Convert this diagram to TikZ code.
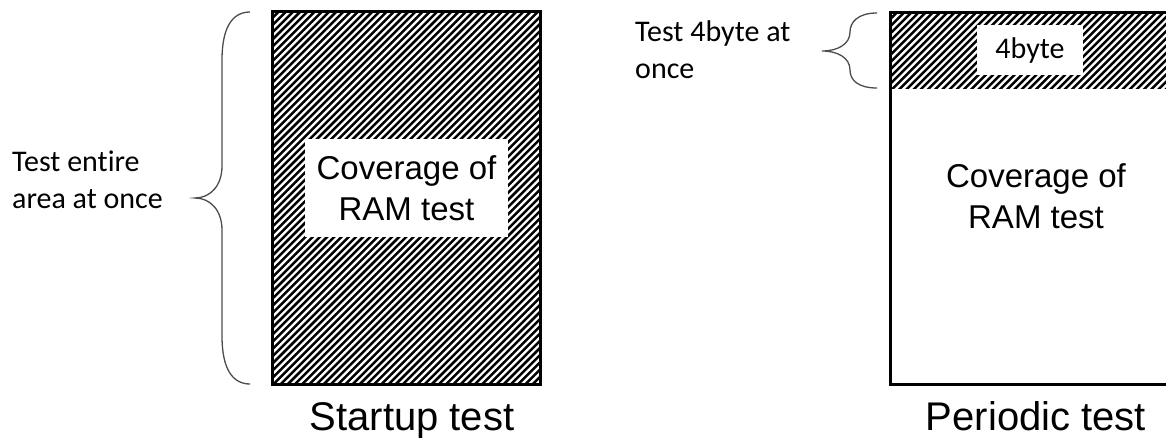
\documentclass[tikz,border=0pt]{standalone}
\usepackage{fontspec}
\setmainfont{Liberation Sans}
\newfontfamily\calibfont[Ligatures=CommonOff]{Carlito}
\tikzset{
  frame/.style={line width=3pt, line join=miter},
  hatchline/.style={line width=2.5pt},
  bracepath/.style={draw=black!70, line width=1.3pt},
  whitebox/.style={fill=white, inner sep=0pt},
  covertext/.style={font=\fontsize{33}{41}\selectfont, align=center},
  sidelabel/.style={font=\calibfont\fontsize{30}{37}\selectfont, align=left, inner sep=0pt, anchor=west},
  caption/.style={font=\fontsize{40}{48}\selectfont, inner sep=0pt, anchor=base},
}
\begin{document}
\begin{tikzpicture}[x=1pt,y=-1pt]
\clip (0,0) rectangle (1166,437);

% ---- startup test: whole area hatched ----
\begin{scope}
  \clip (272,11) rectangle (540,384);
  \foreach \c in {276,283.2,...,940} \draw[hatchline] (\c,0) -- ++(-450,450);
\end{scope}
\node[whitebox, covertext, minimum width=203pt, minimum height=98pt] (startcov) at (406.5,188) {Coverage of\\RAM test};
\draw[frame] (272,11) rectangle (540,384);
\node[caption] (startcap) at (412,430) {Startup test};

% brace for the whole area
\coordinate (lbtop) at (250,12);
\coordinate (lbtip) at (195,198);
\coordinate (lbbot) at (250,384);
\draw[bracepath] (lbtop) .. controls (232,12) and (222,28) .. (222,60) -- (222,166)
  .. controls (222,186) and (210,198) .. (lbtip)
  .. controls (210,198) and (222,210) .. (222,230) -- (222,336)
  .. controls (222,368) and (232,384) .. (lbbot);
\node[sidelabel] (leftlabel) at (12,180) {Test entire\\area at once};

% ---- periodic test: only a 4-byte slice hatched ----
\begin{scope}
  \clip (890,12) rectangle (1190,88);
  \foreach \c in {895,902.2,...,1300} \draw[hatchline] (\c,0) -- ++(-450,450);
\end{scope}
\node[whitebox, font=\calibfont\fontsize{30}{36}\selectfont, minimum width=106pt, minimum height=50pt] (slice) at (1030,50) {4byte};
\draw[frame] (1190,12) -- (890,12) -- (890,384) -- (1190,384);
\node[covertext, inner sep=0pt] (periodcov) at (1036,196.5) {Coverage of\\RAM test};
\node[caption] (periodcap) at (1036,430) {Periodic test};

% brace for the slice
\coordinate (rbtop) at (877,13);
\coordinate (rbtip) at (822,51);
\coordinate (rbbot) at (877,88);
\draw[bracepath] (rbtop) .. controls (858,13) and (850,22) .. (850,32)
  .. controls (850,44) and (838,51) .. (rbtip)
  .. controls (838,51) and (850,58) .. (850,70)
  .. controls (850,80) and (858,88) .. (rbbot);
\node[sidelabel] (rightlabel) at (635,50) {Test 4byte at\\once};
\end{tikzpicture}
\end{document}
